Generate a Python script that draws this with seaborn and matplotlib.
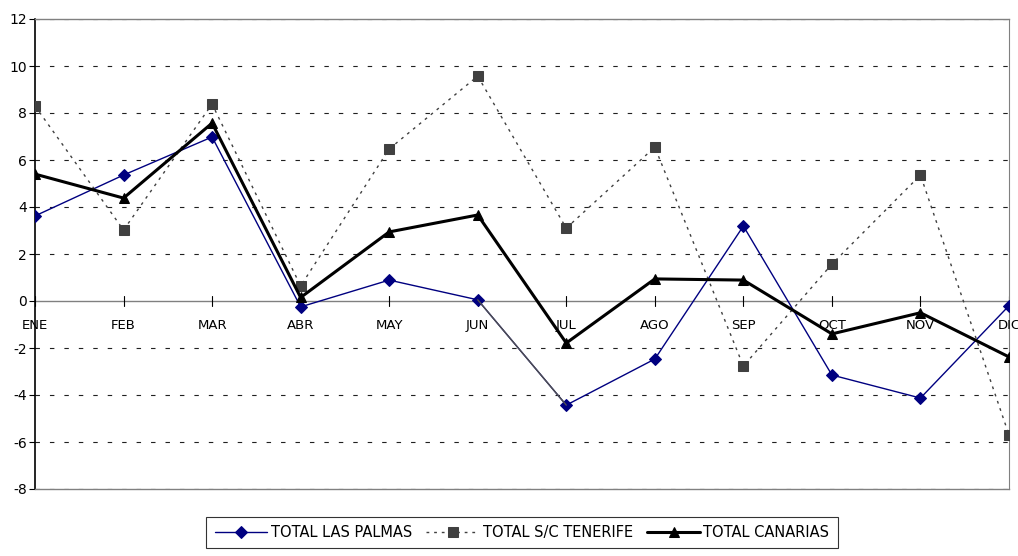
import matplotlib
matplotlib.use("Agg")
import matplotlib.pyplot as plt
import seaborn as sns
import pandas as pd

months = ["ENE", "FEB", "MAR", "ABR", "MAY", "JUN", "JUL", "AGO", "SEP", "OCT", "NOV", "DIC"]
las_palmas = [3.62, 5.36, 6.98, -0.25, 0.89, 0.05, -4.43, -2.47, 3.19, -3.15, -4.13, -0.2]
tenerife = [8.3, 3.02, 8.38, 0.64, 6.47, 9.57, 3.1, 6.55, -2.77, 1.57, 5.36, -5.7]
canarias = [5.4, 4.38, 7.57, 0.15, 2.94, 3.66, -1.79, 0.94, 0.89, -1.4, -0.5, -2.38]
yticks = list(range(-8, 13, 2))

df = pd.DataFrame({
    "x": list(range(len(months))) * 3,
    "y": las_palmas + tenerife + canarias,
    "serie": ["TOTAL LAS PALMAS"] * 12 + ["TOTAL S/C TENERIFE"] * 12 + ["TOTAL CANARIAS"] * 12,
})

sns.set_style("white")
plt.rcParams['font.family'] = ['DejaVu Sans']
plt.rcParams['text.color'] = 'black'
plt.rcParams['ytick.color'] = 'black'

fig = plt.figure(figsize=(10.18, 5.56), dpi=100)
ax = fig.add_axes([35 / 1018, 1 - 489 / 556, 974 / 1018, 470 / 556])

# dashed horizontal gridlines
for v in yticks:
    if v != 0:
        ax.axhline(v, color="#202020", lw=0.8, ls=(0, (4, 9)), zorder=0)
ax.axhline(0, color="#808080", lw=1.0, zorder=1)

styles = {
    "TOTAL LAS PALMAS": dict(color="#000080", lw=1.0, marker="D", ms=6.2, ls="-"),
    "TOTAL S/C TENERIFE": dict(color="#404040", lw=1.0, marker="s", ms=7.5, ls=(0, (2, 3.5))),
    "TOTAL CANARIAS": dict(color="black", lw=2.2, marker="^", ms=7.5, ls="-"),
}
for name, st in styles.items():
    sub = df[df["serie"] == name]
    sns.lineplot(data=sub, x="x", y="y", ax=ax, color=st["color"], lw=st["lw"],
                 marker=st["marker"], markersize=st["ms"], linestyle=st["ls"],
                 markeredgecolor=st["color"], label=name, zorder=3)

# the JUN-JUL stretch of Las Palmas is drawn grey in the original
ax.plot([5, 6], las_palmas[5:7], color="#505050", lw=1.0, zorder=3.5)

ax.set_xlim(0, 11)
ax.set_ylim(-8, 12)
ax.set_yticks(yticks)
ax.set_yticklabels([str(v) for v in yticks], fontsize=10)
ax.set_xticks([])
ax.set_xlabel("")
ax.set_ylabel("")

# category ticks crossing the zero line and labels below it
for i, m in enumerate(months):
    ax.plot([i, i], [-0.2, 0.2], color="black", lw=0.8, zorder=1)
    ax.text(i, -0.75, m, ha="center", va="top", fontsize=9.5, clip_on=False)

ax.tick_params(axis="y", length=4, width=0.8, color="black", pad=2, left=True)
for side in ["top", "bottom"]:
    ax.spines[side].set_color("#808080")
    ax.spines[side].set_linewidth(1.0)
ax.spines["left"].set_color("black")
ax.spines["left"].set_linewidth(1.2)
ax.spines["right"].set_color("#808080")
ax.spines["right"].set_linewidth(0.8)

leg = ax.legend(loc="upper center", bbox_to_anchor=(0.5, -0.045), ncol=3,
                frameon=True, fancybox=False, edgecolor="black", fontsize=10.5,
                handlelength=3.6, handletextpad=0.25, columnspacing=1.0, borderpad=0.55)
leg.get_frame().set_linewidth(0.8)

fig.savefig("out.png", dpi=100)
